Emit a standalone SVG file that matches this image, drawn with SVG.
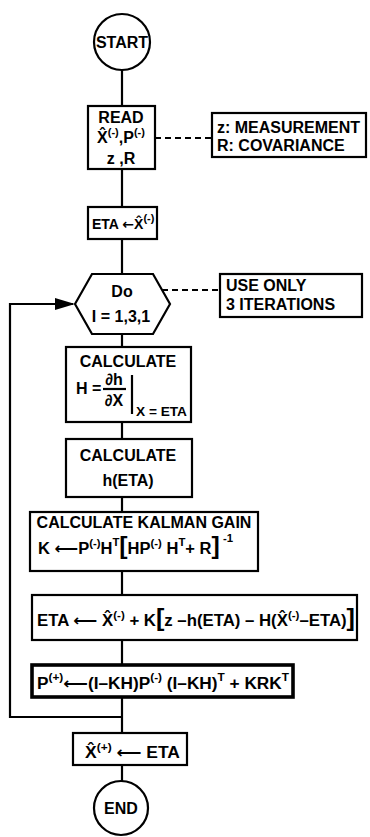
<svg xmlns="http://www.w3.org/2000/svg" width="370" height="837" viewBox="0 0 370 837">
<style>
.box{fill:#fff;stroke:#000;stroke-width:2.2}
.thick{stroke-width:3.6}
.conn{fill:none;stroke:#000;stroke-width:2.2}
.dash{stroke-dasharray:6 4}
text{font-family:"Liberation Sans",Arial,sans-serif;font-weight:bold;font-size:16px;fill:#000}
.mid{text-anchor:middle}
.sup{font-size:11px}
.sub{font-size:13px}
.arr{font-family:"DejaVu Sans","Liberation Sans",sans-serif}
.br{font-size:24px}
</style>
<defs>
<marker id="ah" markerUnits="userSpaceOnUse" markerWidth="20" markerHeight="12" refX="18" refY="6" orient="auto">
<path d="M0,0 L20,6 L0,12 z" fill="#000"/>
</marker>
</defs>
<rect width="370" height="837" fill="#fff"/>
<g id="connectors">
<line class="conn" x1="122" y1="70" x2="122" y2="106"/>
<line class="conn" x1="122" y1="169" x2="122" y2="207"/>
<line class="conn" x1="122" y1="239" x2="122" y2="274"/>
<line class="conn" x1="122" y1="334" x2="122" y2="347"/>
<line class="conn" x1="122" y1="422" x2="122" y2="439"/>
<line class="conn" x1="122" y1="497" x2="122" y2="512"/>
<line class="conn" x1="122" y1="571" x2="122" y2="595"/>
<line class="conn" x1="122" y1="640" x2="122" y2="665"/>
<line class="conn" x1="122" y1="697" x2="122" y2="733"/>
<line class="conn" x1="122" y1="765" x2="122" y2="781"/>
<path class="conn" d="M122,717 H10 V304 H73" marker-end="url(#ah)"/>
<line class="conn dash" x1="155" y1="138" x2="212" y2="138"/>
<line class="conn dash" x1="162" y1="290" x2="220" y2="290"/>
</g>
<g id="start">
<circle class="box" cx="122" cy="42" r="28"/>
<text class="mid" x="122" y="48">START</text>
</g>
<g id="read">
<rect class="box" x="88" y="106" width="67" height="63"/>
<text class="mid" x="121" y="123">READ</text>
<text class="mid" x="121" y="143">X̂<tspan class="sup" dy="-7">(-)</tspan><tspan dy="7">,P</tspan><tspan class="sup" dy="-7">(-)</tspan></text>
<text class="mid" x="121" y="164">z ,R</text>
</g>
<g id="note1">
<rect class="box" x="212" y="113" width="154" height="44"/>
<text x="217" y="133">z: MEASUREMENT</text>
<text x="217" y="151">R: COVARIANCE</text>
</g>
<g id="init">
<rect class="box" x="88" y="207" width="69" height="32"/>
<text x="92" y="229" style="font-size:14px">ETA <tspan class="arr">←</tspan>X̂<tspan class="sup" dy="-7">(-)</tspan></text>
</g>
<g id="loop">
<polygon class="box" points="75,304 92,274 153,274 170,304 153,334 92,334"/>
<text class="mid" x="122" y="297">Do</text>
<text class="mid" x="121" y="322">I = 1,3,1</text>
</g>
<g id="note2">
<rect class="box" x="220" y="274" width="142" height="43"/>
<text x="226" y="291">USE ONLY</text>
<text x="226" y="310">3 ITERATIONS</text>
</g>
<g id="calcH">
<rect class="box" x="66" y="347" width="125" height="75"/>
<text class="mid" x="128" y="367">CALCULATE</text>
<text x="76" y="394">H =</text>
<text class="mid" x="114" y="385">∂h</text>
<line class="conn" x1="103" y1="389" x2="126" y2="389"/>
<text class="mid" x="114" y="406">∂X</text>
<line class="conn" x1="132" y1="375" x2="132" y2="414"/>
<text class="sub" x="136" y="416" textLength="51" lengthAdjust="spacingAndGlyphs">X = ETA</text>
</g>
<g id="calch">
<rect class="box" x="66" y="439" width="126" height="58"/>
<text class="mid" x="128" y="461">CALCULATE</text>
<text class="mid" x="128" y="486">h(ETA)</text>
</g>
<g id="gain">
<rect class="box" x="30" y="512" width="228" height="59"/>
<text class="mid" x="144" y="528">CALCULATE KALMAN GAIN</text>
<text x="38" y="554" textLength="195" lengthAdjust="spacingAndGlyphs">K <tspan class="arr">⟵</tspan>P<tspan class="sup" dy="-7">(-)</tspan><tspan dy="7">H</tspan><tspan class="sup" dy="-8">T</tspan><tspan class="br" dy="8">[</tspan>HP<tspan class="sup" dy="-7">(-)</tspan><tspan dy="7"> H</tspan><tspan class="sup" dy="-8">T</tspan><tspan dy="8">+  R</tspan><tspan class="br">]</tspan><tspan class="sup" dy="-12"> -1</tspan></text>
</g>
<g id="update">
<rect class="box" x="32" y="595" width="325" height="45"/>
<text x="37" y="626" textLength="318" lengthAdjust="spacingAndGlyphs">ETA <tspan class="arr">⟵</tspan> X̂<tspan class="sup" dy="-7">(-)</tspan><tspan dy="7"> + K</tspan><tspan class="br">[</tspan>z –h(ETA) – H(X̂<tspan class="sup" dy="-7">(-)</tspan><tspan dy="7">–ETA)</tspan><tspan class="br">]</tspan></text>
</g>
<g id="cov">
<rect class="box thick" x="32" y="665" width="261" height="32"/>
<text x="37" y="689" textLength="252" lengthAdjust="spacingAndGlyphs">P<tspan class="sup" dy="-8">(+)</tspan><tspan class="arr" dy="8">⟵</tspan>(I–KH)P<tspan class="sup" dy="-8">(-)</tspan><tspan dy="8"> (I–KH)</tspan><tspan class="sup" dy="-8">T</tspan><tspan dy="8"> + KRK</tspan><tspan class="sup" dy="-8">T</tspan></text>
</g>
<g id="final">
<rect class="box" x="73" y="733" width="114" height="32"/>
<text x="85" y="758" textLength="95" lengthAdjust="spacingAndGlyphs">X̂<tspan class="sup" dy="-7">(+)</tspan><tspan dy="7"> </tspan><tspan class="arr">⟵</tspan> ETA</text>
</g>
<g id="end">
<circle class="box" cx="121" cy="808" r="27"/>
<text class="mid" x="121" y="814">END</text>
</g>
</svg>
